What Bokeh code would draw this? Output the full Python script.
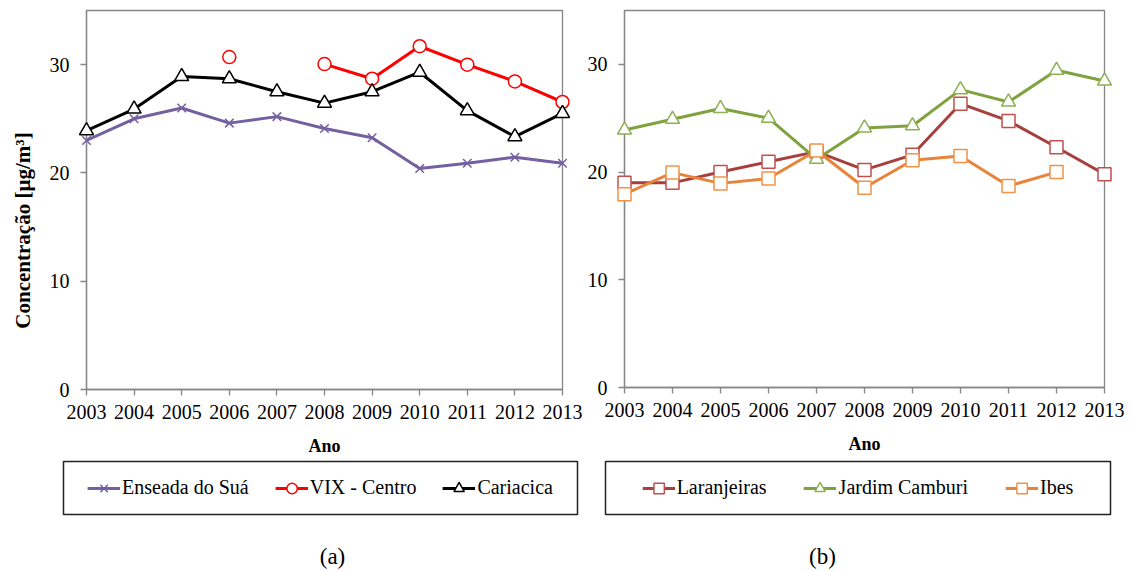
import math
from bokeh.plotting import figure
from bokeh.models import Range1d, FixedTicker, Legend, LegendItem, Label
from bokeh.layouts import row, column
from bokeh.embed import file_html
from bokeh.resources import INLINE

nan = float("nan")
years = list(range(2003, 2014))
y_ticks = [0, 10, 20, 30]

# Panel (a)
enseada = [23.0, 25.0, 26.0, 24.6, 25.2, 24.1, 23.25, 20.4, 20.9, 21.45, 20.9]
vix_centro = [nan, nan, nan, 30.7, nan, 30.05, 28.7, 31.7, 30.0, 28.45, 26.55]
cariacica = [23.9, 25.9, 28.9, 28.7, 27.5, 26.45, 27.5, 29.3, 25.75, 23.35, 25.5]

# Panel (b)
laranjeiras = [19.0, 19.0, 20.0, 20.95, 21.9, 20.2, 21.6, 26.35, 24.75, 22.3, 19.8]
jardim_camburi = [23.9, 24.9, 25.9, 25.0, 21.2, 24.1, 24.3, 27.65, 26.5, 29.45, 28.45]
ibes = [17.95, 19.95, 18.95, 19.4, 22.0, 18.55, 21.1, 21.5, 18.7, 20.0, nan]

FONT = "Liberation Serif"
GRAY = "#868686"

series_a = [
    ("Enseada do Suá", enseada, "#7460A0", "x", "#7460A0", 12),
    ("VIX - Centro", vix_centro, "#FF0000", "circle", "#FF0000", 13),
    ("Cariacica", cariacica, "#000000", "triangle", "#000000", 14),
]
series_b = [
    ("Laranjeiras", laranjeiras, "#A5403D", "square", "#C0504D", 13),
    ("Jardim Camburi", jardim_camburi, "#7FA23F", "triangle", "#8DB050", 14),
    ("Ibes", ibes, "#E8843A", "square", "#F0924A", 13),
]


def no_align(f):
    try:
        f.frame_align = False
    except Exception:
        pass
    return f


def blank_fig(width, height, **kw):
    f = figure(width=width, height=height, x_range=Range1d(0, 1), y_range=Range1d(0, 1),
               output_backend="svg", toolbar_location=None,
               x_axis_location=None, y_axis_location=None, **kw)
    f.xgrid.visible = False
    f.ygrid.visible = False
    f.outline_line_color = None
    f.border_fill_color = "white"
    return no_align(f)


def main_fig(width, mbl, mbr, frame_h, height=458, top=10):
    p = figure(width=width, height=height,
               x_range=Range1d(2003, 2013), y_range=Range1d(0, 35),
               output_backend="svg", toolbar_location=None,
               min_border_left=mbl, min_border_right=mbr,
               min_border_top=top, min_border_bottom=height - top - frame_h)
    p.xgrid.visible = False
    p.ygrid.visible = False
    p.outline_line_color = GRAY
    p.outline_line_width = 1.3
    p.border_fill_color = "white"
    p.xaxis.ticker = FixedTicker(ticks=years)
    p.yaxis.ticker = FixedTicker(ticks=y_ticks)
    for ax in p.axis:
        ax.axis_line_color = GRAY
        ax.axis_line_width = 1.3
        ax.major_tick_line_color = GRAY
        ax.major_tick_line_width = 1.3
        ax.major_tick_out = 6
        ax.major_tick_in = 0
        ax.minor_tick_line_color = None
        ax.major_label_text_font = FONT
        ax.major_label_text_font_size = "20px"
        ax.major_label_text_color = "black"
    p.yaxis.major_label_standoff = 11
    p.xaxis.major_label_standoff = 9
    p.xaxis.axis_label = "Ano"
    p.xaxis.axis_label_text_font = FONT
    p.xaxis.axis_label_text_font_size = "18px"
    p.xaxis.axis_label_text_font_style = "bold"
    p.xaxis.axis_label_text_color = "black"
    p.xaxis.axis_label_standoff = 14
    return no_align(p)


def add_series(p, series):
    for label, vals, lc, marker, mc, ms in series:
        p.line(years, vals, line_color=lc, line_width=3)
        p.scatter(years, vals, marker=marker, size=ms, fill_color="white",
                  line_color=mc, line_width=1.5, level="overlay")


def legend_fig(width, mbl, frame_w, series, spacing):
    lf = figure(width=width, height=60, x_range=Range1d(0, 1), y_range=Range1d(0, 1),
                output_backend="svg", toolbar_location=None,
                min_border_left=mbl, min_border_right=width - mbl - frame_w,
                min_border_top=3, min_border_bottom=4,
                x_axis_location=None, y_axis_location=None)
    lf.xgrid.visible = False
    lf.ygrid.visible = False
    lf.outline_line_color = "#222222"
    lf.outline_line_width = 1.5
    lf.border_fill_color = "white"
    items = []
    for label, vals, lc, marker, mc, ms in series:
        # series data lies outside this frame's range, so only the legend glyphs show
        lr = lf.line(years, vals, line_color=lc, line_width=3)
        sr = lf.scatter(years, vals, marker=marker, fill_color="white", line_color=mc, line_width=1.5)
        items.append(LegendItem(label=label, renderers=[lr, sr]))
    leg = Legend(items=items, location="center", orientation="horizontal",
                 spacing=spacing, padding=0, margin=0,
                 glyph_width=33, glyph_height=26, label_standoff=2,
                 border_line_color=None, background_fill_alpha=0,
                 label_text_font=FONT, label_text_font_size="20px",
                 label_text_color="black")
    lf.add_layout(leg)
    return no_align(lf)


def caption_fig(width, caption, cap_x):
    cf = blank_fig(width, 53, min_border=0)
    cf.add_layout(Label(x=cap_x, y=15, x_units="screen", y_units="screen", text=caption,
                        text_align="center", text_baseline="middle",
                        text_font=FONT, text_font_size="23px", text_color="black"))
    return cf


# Left panel (a)
ylab = blank_fig(40, 458, min_border=0)
ylab.add_layout(Label(x=22, y=228, x_units="screen", y_units="screen",
                      text="Concentração [µg/m³]", angle=math.pi / 2,
                      text_align="center", text_baseline="middle",
                      text_font=FONT, text_font_size="21px", text_font_style="bold",
                      text_color="black"))
pa = main_fig(543, 46, 21, 383)
add_series(pa, series_a)
la = legend_fig(583, 63, 514, series_a, 26)
ca = caption_fig(583, "(a)", 332)

# Right panel (b)
pb = main_fig(548, 41, 27, 377)
add_series(pb, series_b)
lb = legend_fig(548, 22, 505, series_b, 37)
cb = caption_fig(548, "(b)", 239)

layout = row(column(row(ylab, pa, spacing=0), la, ca, spacing=0),
             column(pb, lb, cb, spacing=0), spacing=0)

open("out.html", "w").write(file_html(layout, INLINE))
